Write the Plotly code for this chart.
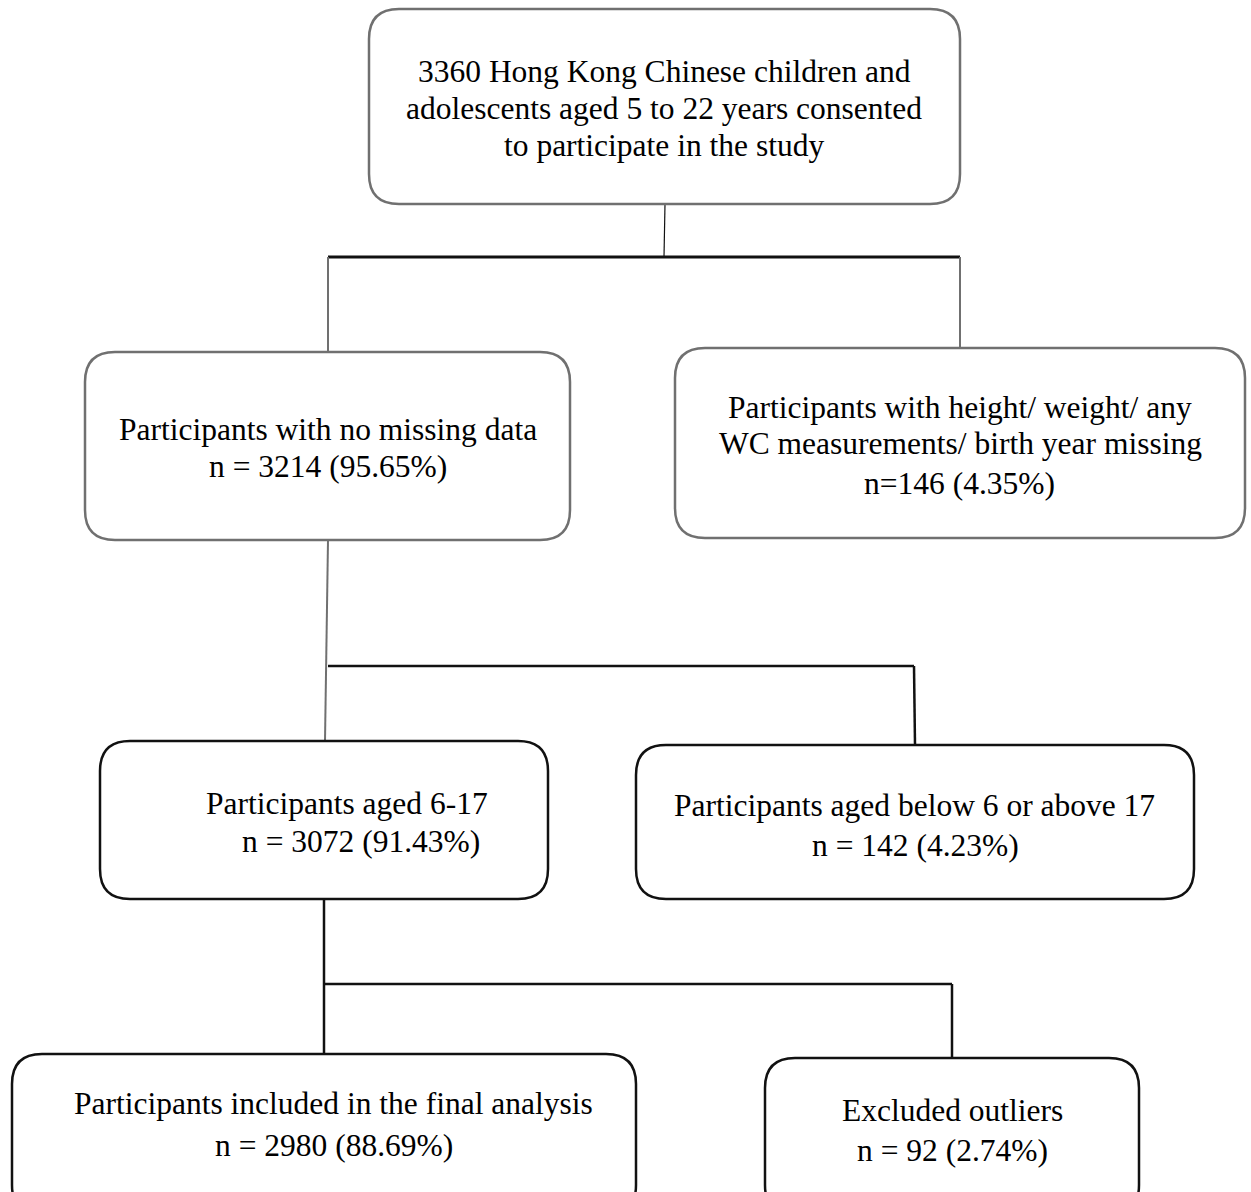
import plotly.graph_objects as go

# ---- data (text content of the flowchart) ----
box_titles = [
    ["3360 Hong Kong Chinese children and",
     "adolescents aged 5 to 22 years consented",
     "to participate in the study"],
    ["Participants with no missing data"],
    ["Participants with height/ weight/ any",
     "WC measurements/ birth year missing"],
    ["Participants aged 6-17"],
    ["Participants aged below 6 or above 17"],
    ["Participants included in the final analysis"],
    ["Excluded outliers"],
]
box_counts = [None, 3214, 146, 3072, 142, 2980, 92]
box_percents = [None, "95.65%", "4.35%", "91.43%", "4.23%", "88.69%", "2.74%"]
count_fmt = [None, "n = {} ({})", "n={} ({})", "n = {} ({})", "n = {} ({})", "n = {} ({})", "n = {} ({})"]

# ---- layout geometry (pixels, y downward) ----
W, H = 1251, 1192
GRAY = "#707070"
BLACK = "#111111"
boxes = [  # x0, y0, x1, y1, colour
    (369, 9, 960, 204, GRAY),
    (85, 352, 570, 540, GRAY),
    (675, 348, 1245, 538, GRAY),
    (100, 741, 548, 899, BLACK),
    (636, 745, 1194, 899, BLACK),
    (12, 1054, 636, 1215, BLACK),
    (765, 1058, 1139, 1215, BLACK),
]
# text line positions per box: list of (x_center, y_center)
text_pos = [
    [(664, 71), (664, 108), (664, 145)],
    [(328, 429), (328, 466)],
    [(960, 407), (960, 443), (959, 483)],
    [(347, 803), (361, 841)],
    [(914, 805), (915, 845)],
    [(333, 1103), (334, 1145)],
    [(952, 1110), (952, 1150)],
]
connectors = [  # x0, y0, x1, y1, colour, width
    (665, 204, 664, 257, BLACK, 1.2),
    (328, 257, 960, 257, BLACK, 3),
    (328, 257, 328, 352, GRAY, 2),
    (960, 257, 960, 348, GRAY, 2),
    (328, 540, 325, 741, GRAY, 2),
    (328, 666, 914, 666, BLACK, 2.5),
    (914, 666, 915, 745, BLACK, 2.5),
    (324, 899, 324, 1054, BLACK, 2.5),
    (324, 984, 952, 984, BLACK, 2.5),
    (952, 984, 952, 1058, BLACK, 2.5),
]


def rounded_rect(x0, y0, x1, y1, r=30):
    return (f"M {x0+r},{y0} L {x1-r},{y0} Q {x1},{y0} {x1},{y0+r} "
            f"L {x1},{y1-r} Q {x1},{y1} {x1-r},{y1} L {x0+r},{y1} "
            f"Q {x0},{y1} {x0},{y1-r} L {x0},{y0+r} Q {x0},{y0} {x0+r},{y0} Z")


fig = go.Figure()
shapes = []
for x0, y0, x1, y1, c, w in connectors:
    shapes.append(dict(type="line", xref="x", yref="y", x0=x0, y0=y0, x1=x1, y1=y1,
                       line=dict(color=c, width=w), layer="below"))
for x0, y0, x1, y1, c in boxes:
    shapes.append(dict(type="path", xref="x", yref="y", path=rounded_rect(x0, y0, x1, y1),
                       line=dict(color=c, width=2.5), fillcolor="white", layer="above"))

annotations = []
for i, titles in enumerate(box_titles):
    lines = list(titles)
    if box_counts[i] is not None:
        lines.append(count_fmt[i].format(box_counts[i], box_percents[i]))
    for text, (x, y) in zip(lines, text_pos[i]):
        annotations.append(dict(x=x, y=y, xref="x", yref="y", text=text, showarrow=False,
                                xanchor="center", yanchor="middle",
                                font=dict(family="Liberation Serif", size=31.5, color="#000000")))

fig.update_layout(
    width=W, height=H, margin=dict(l=0, r=0, t=0, b=0),
    paper_bgcolor="white", plot_bgcolor="white",
    shapes=shapes, annotations=annotations, showlegend=False,
    xaxis=dict(range=[0, W], visible=False, fixedrange=True),
    yaxis=dict(range=[H, 0], visible=False, fixedrange=True),
)
fig.write_html("out.html", config={"displayModeBar": False},
               post_script="document.body.style.margin='0';document.body.style.overflow='hidden';")
